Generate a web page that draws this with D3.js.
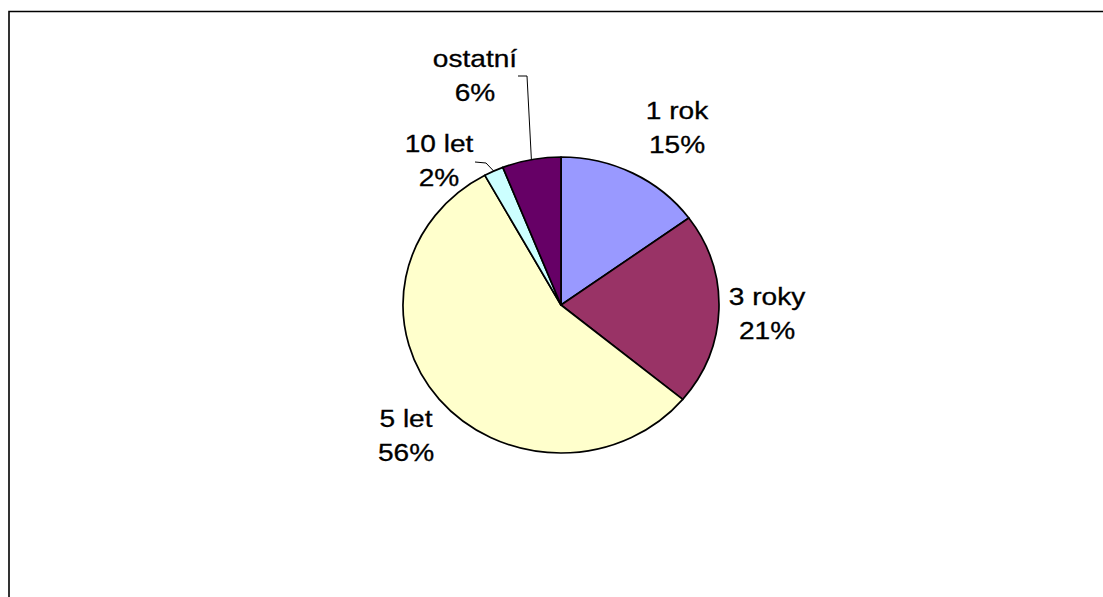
<!DOCTYPE html>
<html>
<head>
<meta charset="utf-8">
<script src="https://cdn.jsdelivr.net/npm/d3@7"></script>
<style>
  html, body { margin: 0; padding: 0; background: #fff; overflow: hidden; }
  svg { display: block; }
  text { font-family: "Liberation Sans", Arial, sans-serif; fill: #000; }
</style>
</head>
<body>
<svg id="chart" width="1103" height="597"></svg>
<script>
// Share of contracts by term length (percent)
const categories = ["1 rok", "3 roky", "5 let", "10 let", "ostatní"];
const shares = [15, 21, 56, 2, 6];
const sliceColors = ["#9999FF", "#993366", "#FFFFCC", "#CCFFFF", "#660066"];

// Layout
const W = 1103, H = 597;
const cx = 561, cy = 305, ry = 148, rx = 158;
const fontSize = 24, lineGap = 34, textStretch = 1.17;
// label anchor: centre x and first baseline; leader = start point of a leader line (or null)
const labelLayout = [
  { x: 677, y: 119, leader: null },
  { x: 767, y: 305, leader: null },
  { x: 406, y: 427, leader: null },
  { x: 439, y: 152, leader: [[475, 162], [486, 163]] },
  { x: 475, y: 67,  leader: [[518, 76], [527, 76]] }
];

const svg = d3.select("#chart");

// chart frame: only the top and left edges lie inside the window
svg.append("path")
  .attr("d", `M9,${H + 10}V11.5H${W + 10}`)
  .attr("fill", "none")
  .attr("stroke", "#000").attr("stroke-width", 1.6);

const pie = d3.pie().sort(null).value(d => d)
  .startAngle(0).endAngle(2 * Math.PI);
const arcs = pie(shares);
const arc = d3.arc().innerRadius(0).outerRadius(ry);

const pieG = svg.append("g")
  .attr("transform", `translate(${cx},${cy}) scale(${rx / ry},1)`);

pieG.selectAll("path")
  .data(arcs)
  .join("path")
  .attr("d", arc)
  .attr("fill", (d, i) => sliceColors[i])
  .attr("stroke", "#000")
  .attr("stroke-width", 1.7)
  .attr("stroke-linejoin", "round")
  .attr("vector-effect", "non-scaling-stroke");

// point on the pie edge at a slice's mid angle
function edgePoint(d) {
  const a = (d.startAngle + d.endAngle) / 2;
  return [cx + rx * Math.sin(a), cy - ry * Math.cos(a)];
}

// leader lines
arcs.forEach((d, i) => {
  const L = labelLayout[i];
  if (!L.leader) return;
  const pts = L.leader.concat([edgePoint(d)]);
  svg.append("path")
    .attr("d", d3.line()(pts))
    .attr("fill", "none")
    .attr("stroke", "#000")
    .attr("stroke-width", 1);
});

// data labels: category name and percentage
const labels = svg.append("g").selectAll("g")
  .data(arcs)
  .join("g")
  .attr("transform", (d, i) =>
    `translate(${labelLayout[i].x},${labelLayout[i].y}) scale(${textStretch},1)`);

labels.append("text")
  .attr("text-anchor", "middle")
  .attr("font-size", fontSize)
  .attr("stroke", "#000").attr("stroke-width", 0.3)
  .text((d, i) => categories[i]);

labels.append("text")
  .attr("text-anchor", "middle")
  .attr("font-size", fontSize)
  .attr("stroke", "#000").attr("stroke-width", 0.3)
  .attr("y", lineGap)
  .text(d => d.data + "%");
</script>
</body>
</html>
